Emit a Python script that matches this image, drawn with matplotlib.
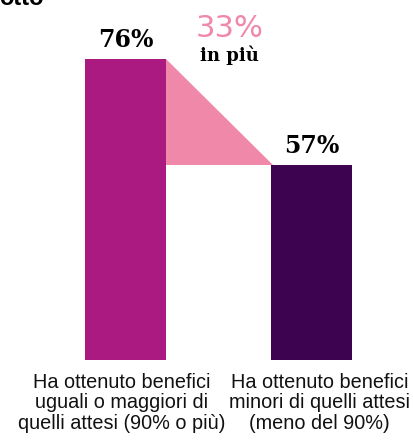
import matplotlib
matplotlib.use("Agg")
import matplotlib.pyplot as plt
from matplotlib.patches import Polygon

# data
categories = ["Ha ottenuto benefici\nuguali o maggiori di\nquelli attesi (90% o più)",
              "Ha ottenuto benefici\nminori di quelli attesi\n(meno del 90%)"]
values = [76, 57]
diff_label = "33%"
diff_note = "in più"

colors = ["#AA1A80", "#3D0250"]
pink = "#F088AA"

W, H = 414, 448
fig = plt.figure(figsize=(W / 100, H / 100), dpi=100)
ax = fig.add_axes([0, 88 / H, 1, 360 / H])

bw = 81 / 186
ax.bar([0, 1], values, width=bw, color=colors, zorder=2)
ax.set_xlim(-125.5 / 186, (W - 125.5) / 186)
ax.set_ylim(22.05, 86.58)
ax.axis("off")

# connector triangle between the two bar tops
tri = Polygon([(bw / 2, values[0]), (bw / 2, values[1]), (1 - bw / 2 + 0.012, values[1])],
              closed=True, color=pink, lw=0, zorder=1)
ax.add_patch(tri)

# value labels
for i, v in enumerate(values):
    ax.annotate(f"{v}%", (i, v), xytext=(0, 8.5), textcoords="offset points",
                ha="center", va="baseline", fontsize=17, fontweight="bold",
                family="DejaVu Serif", color="black")

mid = 0.56
ax.annotate(diff_label, (mid, values[0]), xytext=(0, 16), textcoords="offset points",
            ha="center", va="baseline", fontsize=22, color=pink, family="DejaVu Sans")
ax.annotate(diff_note, (mid, values[0]), xytext=(0, -1.5), textcoords="offset points",
            ha="center", va="baseline", fontsize=13, fontweight="bold",
            family="DejaVu Serif", color="black")

# category labels under the bars
for i, lab in enumerate(categories):
    ax.annotate(lab, (i, 22.05), xytext=([-3, 6][i], -9), textcoords="offset points",
                ha="center", va="top", fontsize=14.3, family="Liberation Sans",
                linespacing=1.12, color="#111111", annotation_clip=False)

# cut-off title at the top edge
fig.text(-0.002, 1 - 5 / H, "otto", ha="left", va="baseline", fontsize=17,
         fontweight="bold", family="Liberation Sans", color="black")

fig.savefig("out.png", dpi=100)
